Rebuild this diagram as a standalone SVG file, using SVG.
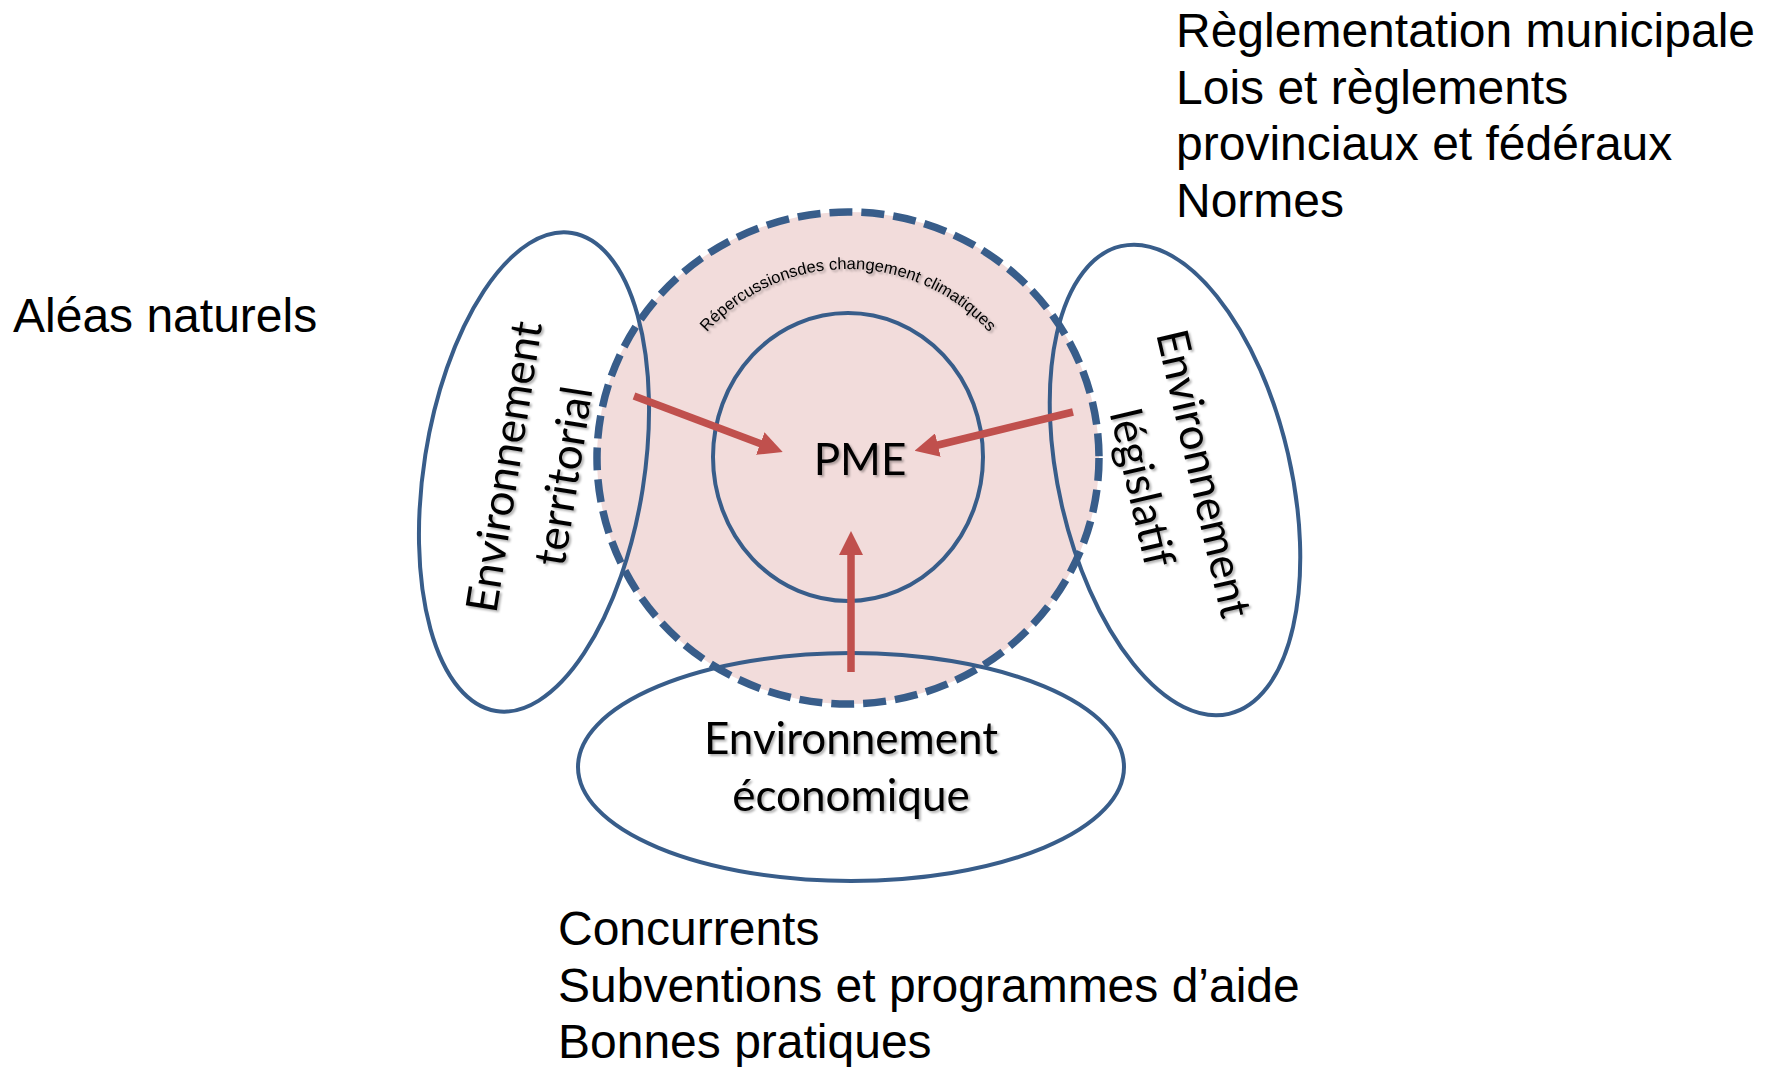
<svg xmlns="http://www.w3.org/2000/svg" width="1773" height="1067" viewBox="0 0 1773 1067">
  <style>
    .outline { fill: none; stroke: #385D8A; stroke-width: 4; }
    .zone { fill: #F2DCDB; stroke: #385D8A; stroke-width: 7.5; stroke-dasharray: 23 9; }
    .arrow { stroke: #C0504D; stroke-width: 7.5; fill: none; marker-end: url(#ah); }
    .lbl { font-family: Lato, "Open Sans", "Noto Sans", sans-serif; font-size: 44px; fill: #000; text-anchor: middle; }
    .note { font-family: "Liberation Sans", Arial, sans-serif; font-size: 48px; fill: #000; }
    .arc { font-family: "Liberation Sans", Arial, sans-serif; font-size: 16.5px; fill: #000; }
  </style>
  <defs>
    <marker id="ah" viewBox="0 0 24 24" refX="4" refY="12" markerWidth="24" markerHeight="24" markerUnits="userSpaceOnUse" orient="auto">
      <path d="M0,0 L24,12 L0,24 z" fill="#C0504D"/>
    </marker>
    <filter id="sh" x="-20%" y="-20%" width="140%" height="140%">
      <feDropShadow dx="2" dy="2" stdDeviation="1.3" flood-color="#000" flood-opacity="0.3"/>
    </filter>
    <path id="arcp" d="M659,458 A189,189 0 0 1 1037,458"/>
  </defs>

  <g id="climate-zone">
    <ellipse class="zone" cx="848" cy="458" rx="251" ry="246"/>
    <text class="arc" filter="url(#sh)"><textPath href="#arcp" startOffset="50%" text-anchor="middle">Répercussionsdes changement climatiques</textPath></text>
  </g>

  <g id="env-territorial">
    <ellipse class="outline" cx="534" cy="472" rx="110" ry="242" transform="rotate(9 534 472)"/>
    <g filter="url(#sh)">
      <g transform="translate(535 471.5) rotate(-81)">
        <text class="lbl" x="0" y="-16">Environnement</text>
        <text class="lbl" x="0" y="44">territorial</text>
      </g>
    </g>
  </g>

  <g id="env-legislatif">
    <ellipse class="outline" cx="1175" cy="480" rx="116" ry="240" transform="rotate(-13 1175 480)"/>
    <g filter="url(#sh)">
      <g transform="translate(1171.5 481) rotate(77)">
        <text class="lbl" x="0" y="-18">Environnement</text>
        <text class="lbl" x="0" y="45">législatif</text>
      </g>
    </g>
  </g>

  <g id="env-economique">
    <ellipse class="outline" cx="851" cy="767" rx="273" ry="114"/>
    <g filter="url(#sh)">
      <text class="lbl" x="851" y="754">Environnement</text>
      <text class="lbl" x="851" y="811">économique</text>
    </g>
  </g>

  <g id="pme">
    <ellipse class="outline" cx="848" cy="457" rx="135" ry="144"/>
    <text class="lbl" x="860" y="475" filter="url(#sh)">PME</text>
  </g>

  <g id="connectors">
    <path class="arrow" d="M634,396 L764,445"/>
    <path class="arrow" d="M1073,412 L934,446"/>
    <path class="arrow" d="M851,672 L851,551"/>
  </g>

  <g id="note-naturels">
    <text class="note" x="13" y="332">Aléas naturels</text>
  </g>

  <g id="note-legislatif">
    <text class="note" x="1176" y="47">Règlementation municipale</text>
    <text class="note" x="1176" y="104">Lois et règlements</text>
    <text class="note" x="1176" y="160">provinciaux et fédéraux</text>
    <text class="note" x="1176" y="217">Normes</text>
  </g>

  <g id="note-economique">
    <text class="note" x="558" y="945">Concurrents</text>
    <text class="note" x="558" y="1002">Subventions et programmes d’aide</text>
    <text class="note" x="558" y="1058">Bonnes pratiques</text>
  </g>
</svg>
